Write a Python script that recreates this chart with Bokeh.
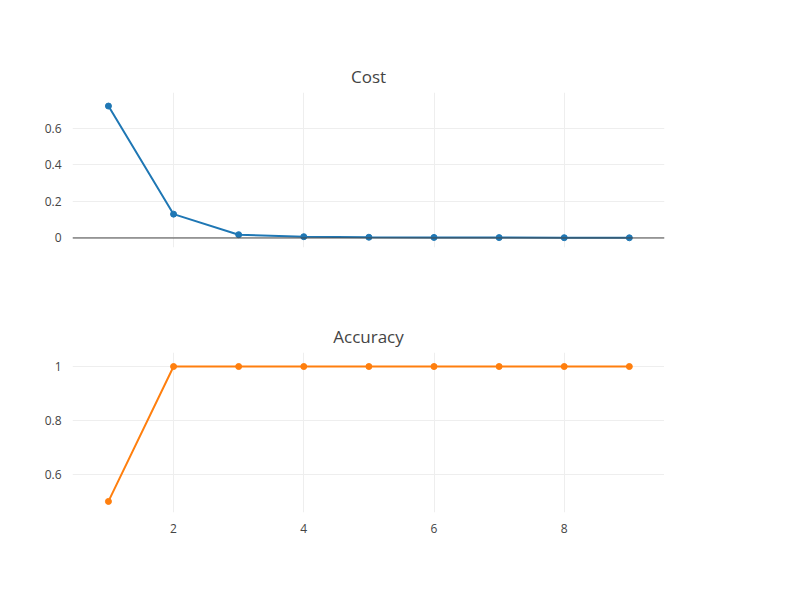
from bokeh.plotting import figure
from bokeh.layouts import column
from bokeh.models import ColumnDataSource, Span, Legend, LegendItem, FixedTicker
from bokeh.embed import file_html
from bokeh.resources import INLINE

epochs = [1, 2, 3, 4, 5, 6, 7, 8, 9]
cost = [0.72, 0.13, 0.018, 0.007, 0.004, 0.003, 0.002, 0.0015, 0.001]
accuracy = [0.5, 1, 1, 1, 1, 1, 1, 1, 1]
x_ticks = [2, 4, 6, 8]
cost_ticks = [0, 0.2, 0.4, 0.6]
acc_ticks = [0.6, 0.8, 1]

BLUE = "#1f77b4"
ORANGE = "#ff7f0e"
FONT = "Open Sans"


def style(p, yticks):
    p.title.align = "center"
    p.title.text_font = FONT
    p.title.text_font_size = "17px"
    p.title.text_font_style = "normal"
    p.title.text_color = "#444444"
    p.outline_line_color = None
    for ax in p.axis:
        ax.axis_line_color = None
        ax.major_tick_line_color = None
        ax.minor_tick_line_color = None
        ax.major_label_text_font = FONT
        ax.major_label_text_font_size = "12px"
        ax.major_label_text_color = "#444444"
    p.xgrid.ticker = FixedTicker(ticks=x_ticks)
    p.ygrid.ticker = FixedTicker(ticks=yticks)
    p.xaxis.ticker = FixedTicker(ticks=x_ticks)
    p.yaxis.ticker = FixedTicker(ticks=yticks)
    p.yaxis.major_label_overrides = {t: ("%g" % t) for t in yticks}
    p.grid.grid_line_color = "#eeeeee"


src = ColumnDataSource(data=dict(x=epochs, cost=cost, acc=accuracy))

p1 = figure(frame_width=592, frame_height=155, x_range=(0.448, 9.54), y_range=(-0.052, 0.794),
            output_backend="svg", toolbar_location=None, title="Cost",
            min_border_left=72, min_border_right=0, min_border_top=92, min_border_bottom=40)
style(p1, cost_ticks)
p1.xaxis.visible = False
p1.add_layout(Span(location=0, dimension="width", line_color="#444444", line_width=1))
l1 = p1.line("x", "cost", source=src, line_color=BLUE, line_width=2)
c1 = p1.scatter("x", "cost", source=src, size=6, color=BLUE)
l2 = p1.line([float("nan")], [float("nan")], line_color=ORANGE, line_width=2)
c2 = p1.scatter([float("nan")], [float("nan")], size=6, color=ORANGE)
legend = Legend(items=[LegendItem(label="Cost", renderers=[l1, c1]),
                       LegendItem(label="Accuracy", renderers=[l2, c2])],
                border_line_color=None, background_fill_alpha=0,
                label_text_font=FONT, label_text_font_size="12px",
                label_text_color="#444444", glyph_width=30, spacing=2,
                label_height=14, margin=12, padding=4)
p1.add_layout(legend, "right")

p2 = figure(frame_width=592, frame_height=160, x_range=(0.448, 9.54), y_range=(0.459, 1.052),
            output_backend="svg", toolbar_location=None, title="Accuracy",
            min_border_left=72, min_border_right=0, min_border_top=65, min_border_bottom=50)
style(p2, acc_ticks)
p2.line("x", "acc", source=src, line_color=ORANGE, line_width=2)
p2.scatter("x", "acc", source=src, size=6, color=ORANGE)

layout = column(p1, p2, spacing=0)
open("out.html", "w").write(file_html(layout, INLINE))
